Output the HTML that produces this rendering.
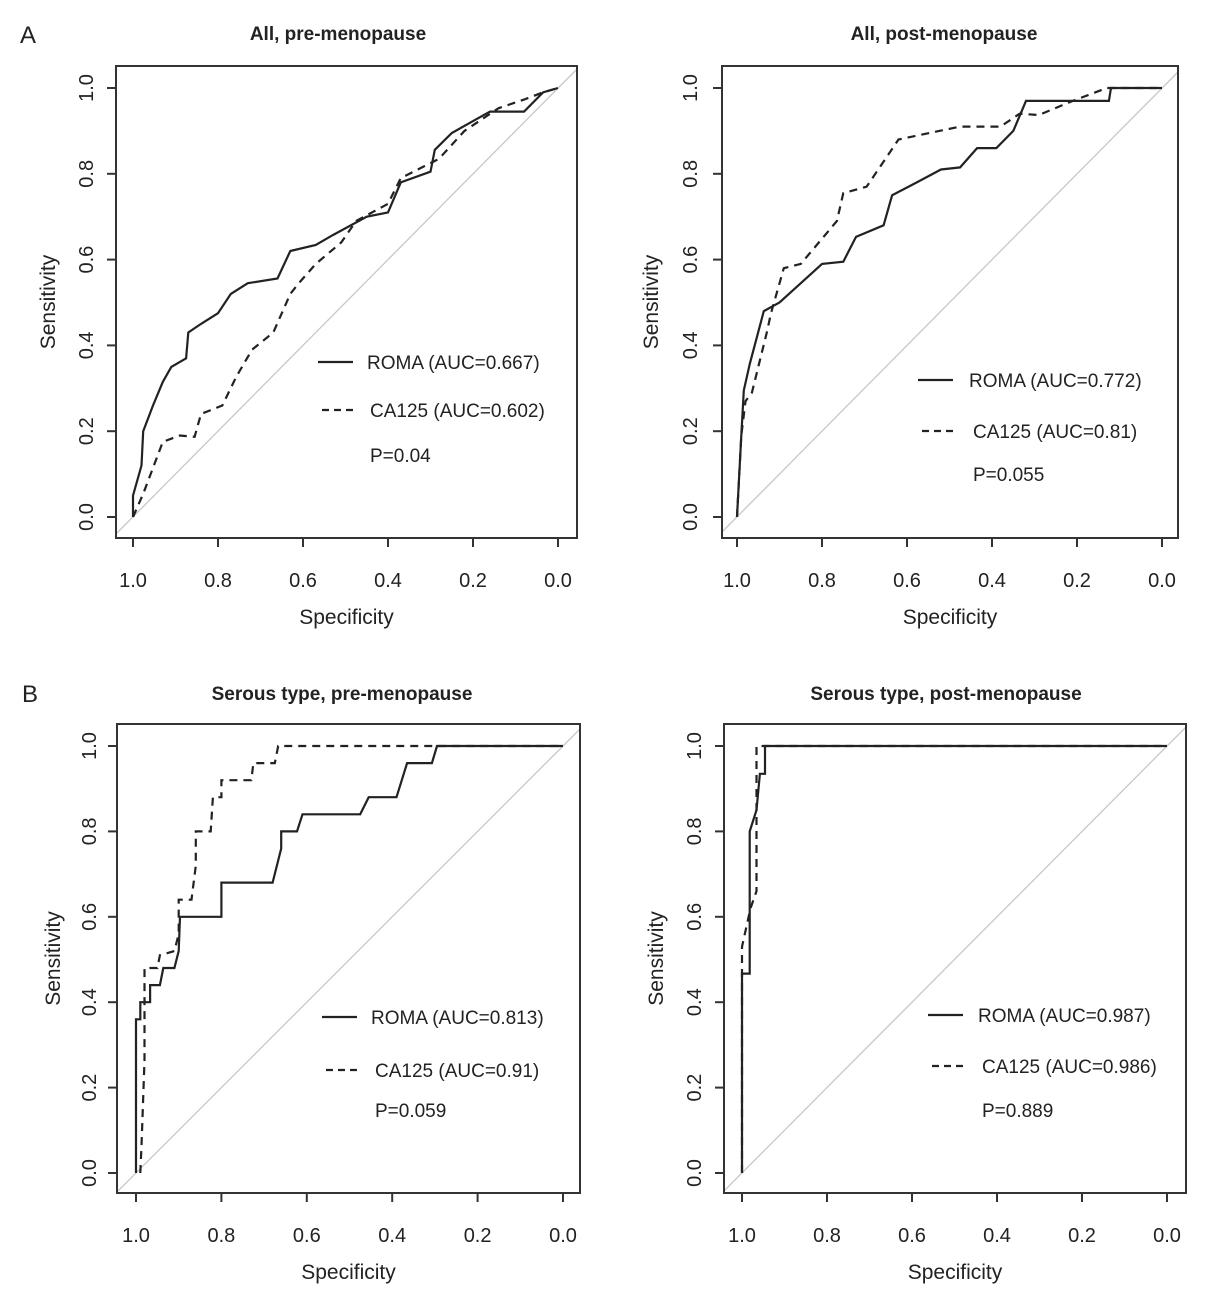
<!DOCTYPE html>
<html><head><meta charset="utf-8"><style>
body{margin:0;background:#fff;}
svg{display:block;font-family:"Liberation Sans",Arial,sans-serif;}
</style></head><body>
<svg id="fig" width="1205" height="1299" viewBox="0 0 1205 1299" xmlns="http://www.w3.org/2000/svg">
<rect width="1205" height="1299" fill="#fff"/>
<text x="20" y="43" font-size="24" fill="#222">A</text>
<text x="22" y="702" font-size="24" fill="#222">B</text>
</svg>
<script>
const tickVals=[0,0.2,0.4,0.6,0.8,1.0];
const tickLabels=["0.0","0.2","0.4","0.6","0.8","1.0"];
const xTickLabels=["1.0","0.8","0.6","0.4","0.2","0.0"];
const titles=["All, pre-menopause","All, post-menopause","Serous type, pre-menopause","Serous type, post-menopause"];
const romaLabels=["ROMA (AUC=0.667)","ROMA (AUC=0.772)","ROMA (AUC=0.813)","ROMA (AUC=0.987)"];
const ca125Labels=["CA125 (AUC=0.602)","CA125 (AUC=0.81)","CA125 (AUC=0.91)","CA125 (AUC=0.986)"];
const pLabels=["P=0.04","P=0.055","P=0.059","P=0.889"];
const roma1Spec=[1,1,.98,.976,.953,.93,.91,.875,.87,.84,.80,.77,.73,.66,.63,.57,.53,.45,.40,.37,.30,.29,.25,.18,.16,.08,.035,0];
const roma1Sens=[0,.05,.12,.2,.26,.315,.35,.37,.43,.45,.475,.52,.545,.556,.62,.634,.657,.70,.71,.78,.805,.856,.895,.934,.945,.945,.99,1];
const ca1Spec=[1,.976,.93,.89,.855,.84,.79,.757,.72,.67,.63,.61,.57,.51,.475,.40,.37,.28,.22,.14,.08,.035,0];
const ca1Sens=[0,.054,.175,.19,.187,.24,.26,.327,.39,.43,.52,.545,.59,.64,.69,.73,.79,.835,.90,.953,.973,.99,1];
const roma2Spec=[1,.99,.984,.97,.937,.90,.85,.80,.75,.72,.655,.635,.577,.52,.475,.435,.39,.35,.32,.125,.12,0];
const roma2Sens=[0,.19,.295,.357,.48,.50,.545,.59,.595,.653,.68,.75,.78,.81,.815,.86,.86,.90,.97,.97,1,1];
const ca2Spec=[1,.99,.98,.965,.93,.92,.89,.85,.765,.75,.695,.62,.475,.38,.335,.29,.21,.13,0];
const ca2Sens=[0,.19,.27,.29,.43,.475,.58,.59,.69,.755,.77,.88,.91,.91,.94,.937,.97,1,1];
const roma3Spec=[1,1,.99,.99,.967,.967,.944,.936,.91,.90,.897,.80,.80,.68,.66,.66,.623,.61,.475,.455,.39,.365,.307,.295,0];
const roma3Sens=[0,.36,.36,.40,.40,.44,.44,.48,.48,.52,.60,.60,.68,.68,.76,.80,.80,.84,.84,.88,.88,.96,.96,1,1];
const ca3Spec=[.99,.987,.98,.98,.95,.944,.91,.90,.90,.87,.86,.86,.825,.82,.80,.80,.73,.725,.675,.667,0];
const ca3Sens=[0,.07,.264,.48,.48,.51,.52,.56,.64,.64,.72,.80,.80,.88,.88,.92,.92,.96,.96,1,1];
const roma4Spec=[1,1,.982,.982,.966,.958,.946,.946,0];
const roma4Sens=[0,.467,.467,.80,.85,.935,.935,1,1];
const ca4Spec=[1,1,.98,.966,.966,0];
const ca4Sens=[0,.53,.62,.66,1,1];

const panels=[
 {fx0:116,fx1:577,fy0:66,fy1:538,x1:133,x0:558,y0:517,y1:88,titleX:338,titleY:40,ylabX:93,sensX:55,
  leg:{lx0:318,lx1:353,tx:367,y1:362,y2:410,tx2:370,py:455},roma:[roma1Spec,roma1Sens],ca:[ca1Spec,ca1Sens]},
 {fx0:722,fx1:1178,fy0:66,fy1:538,x1:737,x0:1162,y0:517,y1:88,titleX:944,titleY:40,ylabX:697,sensX:658,
  leg:{lx0:918,lx1:953,tx:969,y1:380,y2:431,tx2:973,py:474},roma:[roma2Spec,roma2Sens],ca:[ca2Spec,ca2Sens]},
 {fx0:117,fx1:580,fy0:724,fy1:1193,x1:136,x0:563,y0:1173,y1:746,titleX:342,titleY:700,ylabX:96,sensX:60,
  leg:{lx0:322,lx1:357,tx:371,y1:1017,y2:1070,tx2:375,py:1110},roma:[roma3Spec,roma3Sens],ca:[ca3Spec,ca3Sens]},
 {fx0:724,fx1:1186,fy0:724,fy1:1193,x1:742,x0:1167,y0:1173,y1:746,titleX:946,titleY:700,ylabX:701,sensX:663,
  leg:{lx0:928,lx1:963,tx:978,y1:1015,y2:1066,tx2:982,py:1110},roma:[roma4Spec,roma4Sens],ca:[ca4Spec,ca4Sens]}
];
const NS="http://www.w3.org/2000/svg";
const svg=document.getElementById('fig');
function mk(tag,attrs,parent){const e=document.createElementNS(NS,tag);for(const k in attrs)e.setAttribute(k,attrs[k]);(parent||svg).appendChild(e);return e;}
panels.forEach((p,i)=>{
 const g=mk('g',{});
 
 
 const xs=v=>p.x0+(p.x1-p.x0)*v;
 const ys=v=>p.y0+(p.y1-p.y0)*v;
 const t=mk('text',{x:p.titleX,y:p.titleY,'font-size':'19','font-weight':'bold','text-anchor':'middle',fill:'#222'},g);
 t.textContent=titles[i];
 
 
 const dxl=xs(1)-p.fx0;
 const dxr=p.fx1-xs(0);
 const d=mk('line',{x1:p.fx0,y1:ys(0)+dxl,x2:p.fx1,y2:ys(1)-dxr,stroke:'#c8c8c8','stroke-width':1.3},g);
 
 
 const fr=mk('rect',{x:p.fx0,y:p.fy0,width:p.fx1-p.fx0,height:p.fy1-p.fy0,fill:'none',stroke:'#333','stroke-width':2},g);
 
 
 tickVals.forEach((v,k)=>{
  const x=xs(1-v);
  mk('line',{x1:x,y1:p.fy1,x2:x,y2:p.fy1+9,stroke:'#333','stroke-width':2},g);
  const xl=mk('text',{x:x,y:p.fy1+49,'font-size':'20','text-anchor':'middle',fill:'#222'},g);
  xl.textContent=xTickLabels[k];
  
  
  const y=ys(v);
  mk('line',{x1:p.fx0,y1:y,x2:p.fx0-9,y2:y,stroke:'#333','stroke-width':2},g);
  const yl=mk('text',{x:p.ylabX,y:y,'font-size':'20','text-anchor':'middle',fill:'#222',transform:`rotate(-90 ${p.ylabX} ${y})`},g);
  yl.textContent=tickLabels[k];
  
  
 });
 const cx=(p.fx0+p.fx1)/2, cy=(p.fy0+p.fy1)/2;
 const xt=mk('text',{x:cx,y:p.fy1+86,'font-size':'21','text-anchor':'middle',fill:'#222'},g);
 xt.textContent='Specificity';
 
 
 const yt=mk('text',{x:p.sensX,y:cy,'font-size':'21','text-anchor':'middle',fill:'#222',transform:`rotate(-90 ${p.sensX} ${cy})`},g);
 yt.textContent='Sensitivity';
 
 
 const path=(a)=>a[0].map((s,k)=>(k?'L':'M')+xs(s).toFixed(1)+' '+ys(a[1][k]).toFixed(1)).join(' ');
 const r=mk('path',{d:path(p.roma),fill:'none',stroke:'#222','stroke-width':2.2},g);
 
 
 const c=mk('path',{d:path(p.ca),fill:'none',stroke:'#222','stroke-width':2.2,'stroke-dasharray':'8 6'},g);
 
 
 const L=p.leg;
 mk('line',{x1:L.lx0,y1:L.y1,x2:L.lx1,y2:L.y1,stroke:'#222','stroke-width':2.2},g);
 const lt1=mk('text',{x:L.tx,y:L.y1+7,'font-size':'19',fill:'#222'},g);
 lt1.textContent=romaLabels[i];
 
 
 mk('line',{x1:L.lx0+4,y1:L.y2,x2:L.lx1+2,y2:L.y2,stroke:'#222','stroke-width':2.2,'stroke-dasharray':'7 5'},g);
 const lt2=mk('text',{x:L.tx2,y:L.y2+7,'font-size':'19',fill:'#222'},g);
 lt2.textContent=ca125Labels[i];
 
 
 const pt=mk('text',{x:L.tx2,y:L.py+7,'font-size':'19',fill:'#222'},g);
 pt.textContent=pLabels[i];
 
 
});
</script>
</body></html>
